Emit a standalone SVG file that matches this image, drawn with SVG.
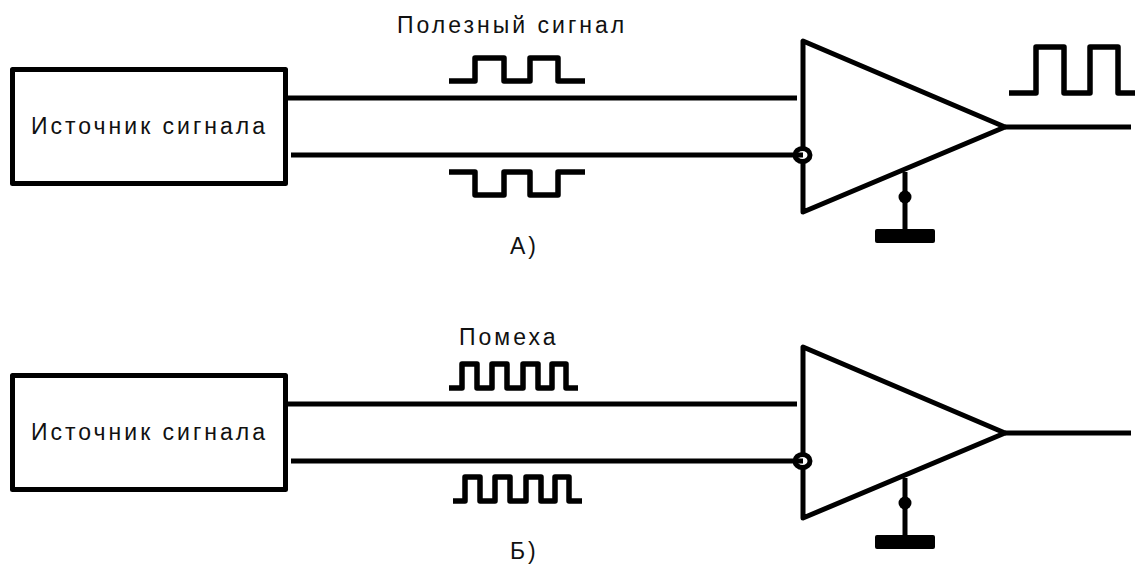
<svg xmlns="http://www.w3.org/2000/svg" width="1135" height="564" viewBox="0 0 1135 564">
<style>
.l{fill:none;stroke:#000;stroke-width:5;stroke-linejoin:round}
.p{fill:none;stroke:#000;stroke-width:5.500;stroke-linejoin:round}
.t{font-family:"Liberation Sans",Arial,sans-serif;font-size:23px;letter-spacing:3px;fill:#111}
.g{fill:#000}
</style>
<defs>
<g id="amp">
<path class="l" d="M803 41V212L1005 127Z" stroke-width="5.500"/>
<ellipse cx="802.500" cy="155" rx="7.500" ry="6.500" fill="#fff" stroke="#000" stroke-width="5"/>
<path class="l" d="M796 155H803"/>
<path class="l" d="M905 172V232"/>
<circle class="g" cx="905" cy="197" r="6.500"/>
<rect class="g" x="875" y="229" width="60" height="14" rx="2"/>
</g>
</defs>
<rect width="1135" height="564" fill="#fff"/>
<g id="connectors">
<path class="l" d="M288 98H797M291 155H797M1005 127H1131"/>
<path class="l" d="M288 404H797M291 461H797M1005 433H1131"/>
</g>
<g id="source-a"><rect class="l" x="12.500" y="69.500" width="273" height="114"/><text class="t" x="31" y="134">Источник сигнала</text></g>
<g id="amp-a"><use href="#amp"/></g>
<g id="signal-a">
<path class="p" d="M449 81H475V58H504V81H530V58H558V81H585"/>
<path class="p" d="M449 172H475V195H504V172H530V195H558V172H585"/>
<path class="p" d="M1009 93H1036V47H1064V93H1090V47H1118V93H1135"/>
<text class="t" x="397" y="33">Полезный сигнал</text>
<text class="t" x="510" y="254">А)</text>
</g>
<g id="source-b"><rect class="l" x="12.500" y="375.500" width="273" height="114"/><text class="t" x="31" y="440">Источник сигнала</text></g>
<g id="amp-b"><use href="#amp" y="306"/></g>
<g id="noise-b">
<path class="p" d="M449 388H462V364H477V388H492V364H507V388H523V364H538V388H552V364H566V388H578"/>
<path class="p" d="M453 501H465V477H480V501H495V477H510V501H526V477H541V501H555V477H569V501H582"/>
<text class="t" x="459" y="345">Помеха</text>
<text class="t" x="510" y="559">Б)</text>
</g>
</svg>
